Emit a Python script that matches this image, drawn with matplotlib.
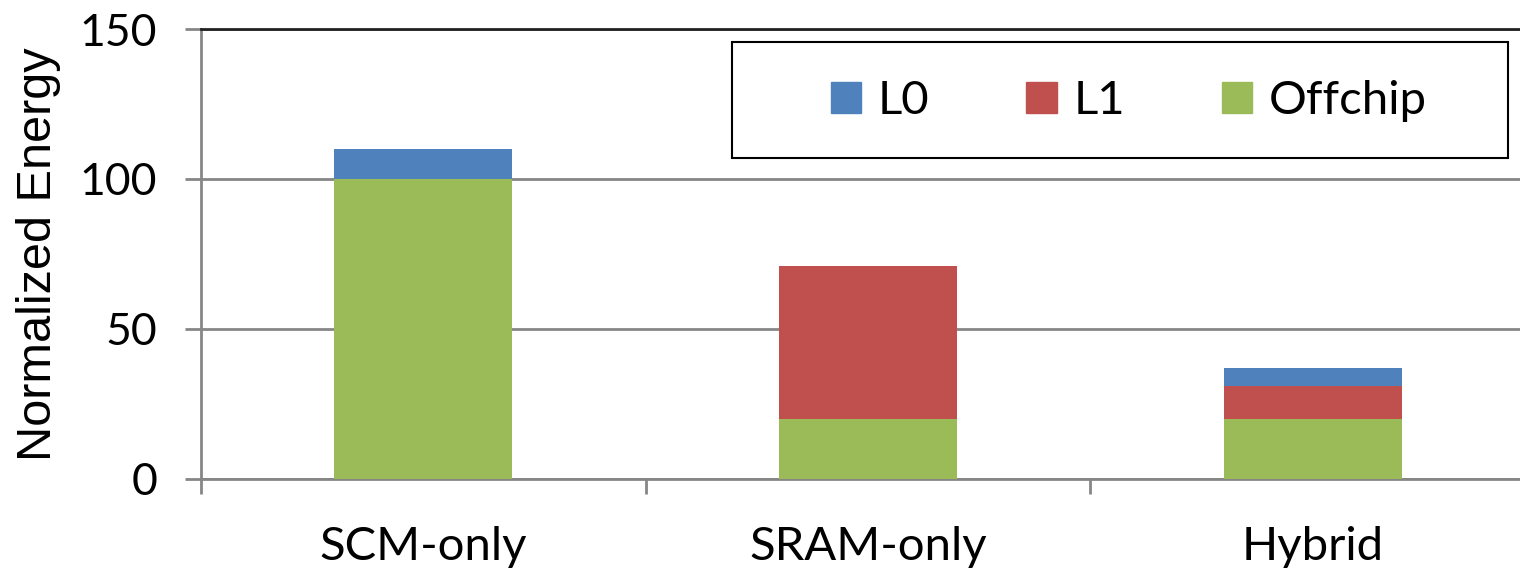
import numpy as np
import matplotlib
matplotlib.use("Agg")
import matplotlib.pyplot as plt
from matplotlib.patches import Patch, Rectangle

plt.rcParams['font.family'] = ['Lato', 'DejaVu Sans']

# Stacked energy components per memory configuration
configs = ['SCM-only', 'SRAM-only', 'Hybrid']
offchip = [100, 20, 20]
l1 = [0, 51, 11]
l0 = [10, 0, 6]

c_l0 = '#4f81bd'
c_l1 = '#c0504d'
c_off = '#9bbb59'
grid_c = '#868686'

fig = plt.figure(figsize=(15.2, 5.72), dpi=100)
ax = fig.add_axes([0.1322, 0.1626, 0.8776, 0.7867])

x = np.arange(len(configs))
w = 0.4
bottom_l1 = np.array(offchip)
bottom_l0 = bottom_l1 + np.array(l1)
ax.bar(x, offchip, w, color=c_off, zorder=3)
ax.bar(x, l1, w, bottom=bottom_l1, color=c_l1, zorder=3)
ax.bar(x, l0, w, bottom=bottom_l0, color=c_l0, zorder=3)

ax.set_xlim(-0.5, 2.5)
ax.set_ylim(0, 150)
ax.set_yticks([0, 50, 100, 150])
ax.yaxis.grid(True, color=grid_c, linewidth=2, zorder=0)
ax.set_axisbelow(True)

# category labels centred, tick marks at the boundaries
ax.set_xticks(x)
ax.set_xticklabels(configs)
ax.set_xticks([-0.5, 0.5, 1.5], minor=True)
ax.tick_params(axis='x', which='major', length=0, pad=34, labelsize=34)
ax.tick_params(axis='x', which='minor', length=11, width=2, color=grid_c)
ax.tick_params(axis='y', length=11.5, width=2, color=grid_c, labelsize=32, pad=20)

for s in ['left', 'bottom']:
    ax.spines[s].set_color(grid_c)
    ax.spines[s].set_linewidth(2)
ax.spines['right'].set_visible(False)
ax.spines['top'].set_color('#222222')
ax.spines['top'].set_linewidth(2)

ax.set_ylabel('Normalized Energy', fontsize=35, family=['Liberation Sans', 'DejaVu Sans'])
ax.yaxis.set_label_coords(-0.105, 0.5)

handles = [Patch(color=c_l0, label='L0'),
           Patch(color=c_l1, label='L1'),
           Patch(color=c_off, label='Offchip')]
ax.legend(handles=handles, ncol=3, fontsize=34, loc='center',
          bbox_to_anchor=(0.6957, 0.84), frameon=False,
          handlelength=0.64, handleheight=0.64, handletextpad=0.36,
          columnspacing=2.05)
# legend border
ax.add_patch(Rectangle((0.398, 0.713), 0.582, 0.258, transform=ax.transAxes,
                       fill=False, edgecolor='black', linewidth=1.5, zorder=5))

fig.savefig('out.png', dpi=100)
